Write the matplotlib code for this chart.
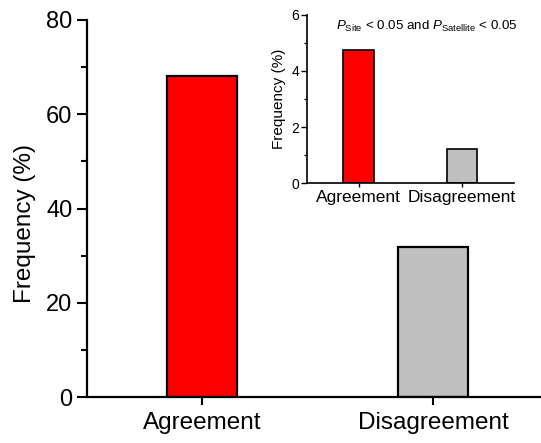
import matplotlib
matplotlib.use("Agg")
import matplotlib.pyplot as plt
from matplotlib.ticker import MultipleLocator

plt.rcParams['font.family'] = ['Liberation Sans', 'DejaVu Sans']
plt.rcParams['mathtext.fontset'] = 'custom'
plt.rcParams['mathtext.rm'] = 'Liberation Sans'
plt.rcParams['mathtext.it'] = 'Liberation Sans:italic'

categories = ["Agreement", "Disagreement"]
main_values = [68.2, 31.8]
inset_values = [4.75, 1.2]
colors = ["#ff0000", "#c0c0c0"]

W, H = 541, 443
fig = plt.figure(figsize=(W / 100, H / 100), dpi=100)

def pos(l, r, b, t):
    return [l / W, 1 - b / H, (r - l) / W, (b - t) / H]

ax = fig.add_axes(pos(86.5, 548.5, 397, 20))
x = range(len(categories))
ax.bar(x, main_values, width=0.3, color=colors, edgecolor="black", linewidth=1.6)
ax.set_xlim(-0.5, 1.5)
ax.set_ylim(0, 80)
ax.yaxis.set_major_locator(MultipleLocator(20))
ax.yaxis.set_minor_locator(MultipleLocator(10))
ax.set_xticks(list(x))
ax.set_xticklabels(categories, fontsize=17.5)
ax.tick_params(axis='y', labelsize=17, width=1.5, length=7, pad=3)
ax.tick_params(axis='y', which='minor', width=1.5, length=4)
ax.tick_params(axis='x', width=1.5, length=6, pad=5)
for s in ['top', 'right']:
    ax.spines[s].set_visible(False)
for s in ['left', 'bottom']:
    ax.spines[s].set_linewidth(1.6)
ax.set_ylabel("Frequency (%)", fontsize=17.5)
ax.yaxis.set_label_coords(-0.109, 0.46)

ins = fig.add_axes(pos(306.7, 514, 183, 15))
ins.bar(x, inset_values, width=0.29, color=colors, edgecolor="black", linewidth=1.2)
ins.set_xlim(-0.5, 1.5)
ins.set_ylim(0, 6)
ins.yaxis.set_major_locator(MultipleLocator(2))
ins.yaxis.set_minor_locator(MultipleLocator(1))
ins.set_xticks(list(x))
ins.set_xticklabels(categories, fontsize=12.5)
ins.tick_params(axis='y', labelsize=10, width=1, length=4, pad=1.5)
ins.tick_params(axis='y', which='minor', width=1, length=2.5)
ins.tick_params(axis='x', width=1, length=3, pad=2)
for s in ['top', 'right']:
    ins.spines[s].set_visible(False)
for s in ['left', 'bottom']:
    ins.spines[s].set_linewidth(1.2)
ins.set_ylabel("Frequency (%)", fontsize=11, labelpad=4)
ins.text(0.58, 0.93, r"$\mathit{P}_{\mathrm{Site}}$ < 0.05 and $\mathit{P}_{\mathrm{Satellite}}$ < 0.05",
         transform=ins.transAxes, ha='center', va='center', fontsize=9.6)

fig.savefig("out.png", dpi=100)
